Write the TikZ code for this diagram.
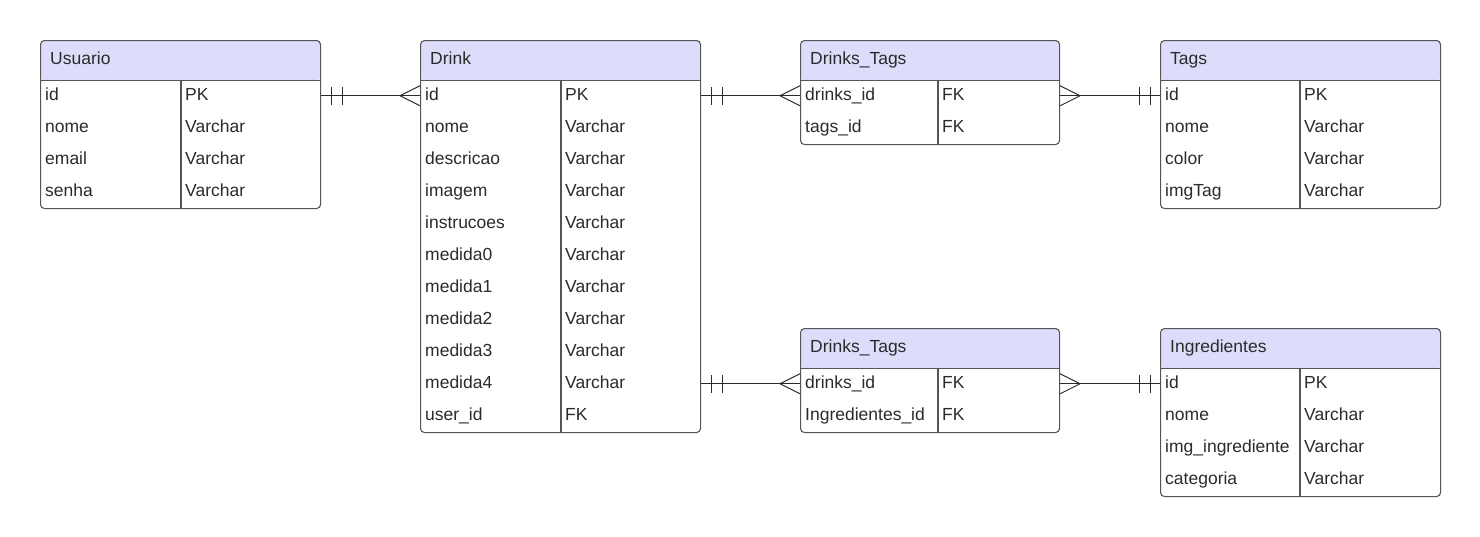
\documentclass[tikz,border=0pt]{standalone}
\usepackage{fontspec}
\setmainfont{Liberation Sans}
\usepackage{xcolor}
\usepackage{tikz}
\usetikzlibrary{positioning}
\definecolor{hdrfill}{HTML}{DDDDFB}
\definecolor{rulegray}{HTML}{555555}
\definecolor{txt}{HTML}{2B2B2B}

\begin{document}
\begin{tikzpicture}[x=1pt, y=-1pt,
  font=\fontsize{17.5}{21}\selectfont, text=txt,
  tbl/.style={draw=rulegray, line width=1.1pt, rounded corners=4pt, fill=white,
              anchor=north west, inner sep=0pt, minimum width=#1,
              path picture={
                \fill[hdrfill] (path picture bounding box.north west)
                  rectangle ([yshift=-40pt]path picture bounding box.north east);
                \draw[rulegray, line width=1.1pt]
                  ([yshift=-40pt]path picture bounding box.north west)
                  -- ([yshift=-40pt]path picture bounding box.north east);
              }},
  tbl/.default=280pt,
  ttl/.style={anchor=base west, inner sep=0pt},
  fld/.style={anchor=base west, inner sep=0pt, text height=12pt, text depth=3.5pt},
  rule/.style={draw=rulegray, line width=1.1pt},
  conn/.style={draw=txt, line width=1pt},
  crowfoot/.pic={\draw[conn] (-20,0) -- (0,-10) (-20,0) -- (0,10);},
  bars/.pic={\draw[conn] (-10,-9) -- (-10,9) (-21,-9) -- (-21,9);},
]
  \useasboundingbox (0,0) rectangle (1480,536);

  % Usuario
  \node[tbl, minimum height=168pt] (usuario) at (40,40) {};
  \node[ttl] (usuario-t) at ([xshift=10pt,yshift=-24pt]usuario.north west) {Usuario};
  \draw[rule] ([xshift=141pt,yshift=-40pt]usuario.north west) -- ([xshift=141pt]usuario.south west);
  \foreach \f/\t [count=\i] in {id/PK, nome/Varchar, email/Varchar, senha/Varchar} {
    \node[fld] (usuario-\i) at ([xshift=5pt,yshift={-(28+32*\i)*1pt}]usuario.north west) {\f};
    \node[fld] (usuario-\i-t) at ([xshift=145pt,yshift={-(28+32*\i)*1pt}]usuario.north west) {\t};
  }

  % Drink
  \node[tbl, minimum height=392pt] (drink) at (420,40) {};
  \node[ttl] (drink-t) at ([xshift=10pt,yshift=-24pt]drink.north west) {Drink};
  \draw[rule] ([xshift=141pt,yshift=-40pt]drink.north west) -- ([xshift=141pt]drink.south west);
  \foreach \f/\t [count=\i] in {id/PK, nome/Varchar, descricao/Varchar, imagem/Varchar,
      instrucoes/Varchar, medida0/Varchar, medida1/Varchar, medida2/Varchar,
      medida3/Varchar, medida4/Varchar, user\_id/FK} {
    \node[fld] (drink-\i) at ([xshift=5pt,yshift={-(28+32*\i)*1pt}]drink.north west) {\f};
    \node[fld] (drink-\i-t) at ([xshift=145pt,yshift={-(28+32*\i)*1pt}]drink.north west) {\t};
  }

  % Drinks_Tags (tags)
  \node[tbl=259pt, minimum height=104pt] (drinkstags) at (800,40) {};
  \node[ttl] (drinkstags-t) at ([xshift=10pt,yshift=-24pt]drinkstags.north west) {Drinks\_Tags};
  \draw[rule] ([xshift=138pt,yshift=-40pt]drinkstags.north west) -- ([xshift=138pt]drinkstags.south west);
  \foreach \f/\t [count=\i] in {drinks\_id/FK, tags\_id/FK} {
    \node[fld] (drinkstags-\i) at ([xshift=5pt,yshift={-(28+32*\i)*1pt}]drinkstags.north west) {\f};
    \node[fld] (drinkstags-\i-t) at ([xshift=142pt,yshift={-(28+32*\i)*1pt}]drinkstags.north west) {\t};
  }

  % Tags
  \node[tbl, minimum height=168pt] (tags) at (1160,40) {};
  \node[ttl] (tags-t) at ([xshift=10pt,yshift=-24pt]tags.north west) {Tags};
  \draw[rule] ([xshift=140pt,yshift=-40pt]tags.north west) -- ([xshift=140pt]tags.south west);
  \foreach \f/\t [count=\i] in {id/PK, nome/Varchar, color/Varchar, imgTag/Varchar} {
    \node[fld] (tags-\i) at ([xshift=5pt,yshift={-(28+32*\i)*1pt}]tags.north west) {\f};
    \node[fld] (tags-\i-t) at ([xshift=144pt,yshift={-(28+32*\i)*1pt}]tags.north west) {\t};
  }

  % Drinks_Tags (ingredientes)
  \node[tbl=259pt, minimum height=104pt] (drinksingr) at (800,328) {};
  \node[ttl] (drinksingr-t) at ([xshift=10pt,yshift=-24pt]drinksingr.north west) {Drinks\_Tags};
  \draw[rule] ([xshift=138pt,yshift=-40pt]drinksingr.north west) -- ([xshift=138pt]drinksingr.south west);
  \foreach \f/\t [count=\i] in {drinks\_id/FK, Ingredientes\_id/FK} {
    \node[fld] (drinksingr-\i) at ([xshift=5pt,yshift={-(28+32*\i)*1pt}]drinksingr.north west) {\f};
    \node[fld] (drinksingr-\i-t) at ([xshift=142pt,yshift={-(28+32*\i)*1pt}]drinksingr.north west) {\t};
  }

  % Ingredientes
  \node[tbl, minimum height=168pt] (ingredientes) at (1160,328) {};
  \node[ttl] (ingredientes-t) at ([xshift=10pt,yshift=-24pt]ingredientes.north west) {Ingredientes};
  \draw[rule] ([xshift=140pt,yshift=-40pt]ingredientes.north west) -- ([xshift=140pt]ingredientes.south west);
  \foreach \f/\t [count=\i] in {id/PK, nome/Varchar, img\_ingrediente/Varchar, categoria/Varchar} {
    \node[fld] (ingredientes-\i) at ([xshift=5pt,yshift={-(28+32*\i)*1pt}]ingredientes.north west) {\f};
    \node[fld] (ingredientes-\i-t) at ([xshift=144pt,yshift={-(28+32*\i)*1pt}]ingredientes.north west) {\t};
  }

  % Relations
  \draw[conn] (usuario.east |- usuario-1) -- (drink.west |- drink-1);
  \pic[rotate=180] at (usuario.east |- usuario-1) {bars};
  \pic at (drink.west |- drink-1) {crowfoot};

  \draw[conn] (drink.east |- drink-1) -- (drinkstags.west |- drinkstags-1);
  \pic[rotate=180] at (drink.east |- drink-1) {bars};
  \pic at (drinkstags.west |- drinkstags-1) {crowfoot};

  \draw[conn] (drinkstags.east |- drinkstags-1) -- (tags.west |- tags-1);
  \pic[rotate=180] at (drinkstags.east |- drinkstags-1) {crowfoot};
  \pic at (tags.west |- tags-1) {bars};

  \draw[conn] (drink.east |- drink-10) -- (drinksingr.west |- drinksingr-1);
  \pic[rotate=180] at (drink.east |- drink-10) {bars};
  \pic at (drinksingr.west |- drinksingr-1) {crowfoot};

  \draw[conn] (drinksingr.east |- drinksingr-1) -- (ingredientes.west |- ingredientes-1);
  \pic[rotate=180] at (drinksingr.east |- drinksingr-1) {crowfoot};
  \pic at (ingredientes.west |- ingredientes-1) {bars};
\end{tikzpicture}
\end{document}
